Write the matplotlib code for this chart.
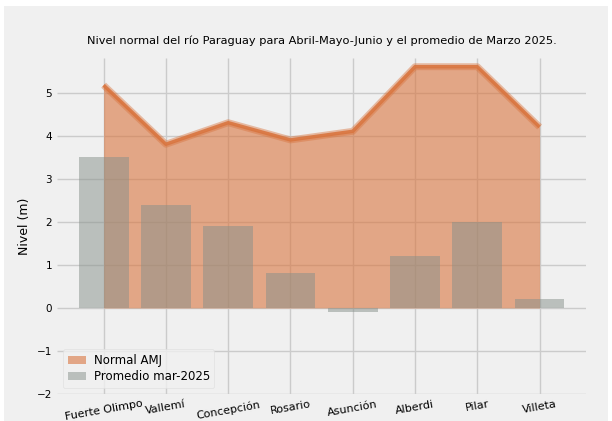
import matplotlib.pyplot as plt
import matplotlib.patches as mpatches
import numpy as np

plt.style.use('fivethirtyeight')

estaciones = ['Fuerte Olimpo', 'Vallemí', 'Concepción', 'Rosario',
              'Asunción', 'Alberdi', 'Pilar', 'Villeta']
normal_amj = [5.17, 3.8, 4.3, 3.9, 4.1, 5.6, 5.6, 4.2]
promedio_mar = [3.5, 2.4, 1.9, 0.8, -0.1, 1.2, 2.0, 0.2]

naranja = '#d9753f'
gris = '#86908a'

fig = plt.figure(figsize=(6.12, 4.21), dpi=100, facecolor='white')
fig.patches.append(mpatches.Rectangle((0.007, 0.0), 0.986, 0.986,
                                      transform=fig.transFigure,
                                      facecolor='#f0f0f0', edgecolor='none',
                                      zorder=-10))
ax = fig.add_axes([0.093, 0.064, 0.865, 0.798])
ax.set_facecolor('#f0f0f0')

x = np.arange(len(estaciones))
ax.fill_between(x, 0, normal_amj, color=naranja, alpha=0.6, lw=0,
                label='Normal AMJ', zorder=2)
ax.plot(x, normal_amj, color=naranja, lw=5, alpha=0.45, zorder=3)
ax.plot(x, normal_amj, color=naranja, lw=2.5, alpha=0.9, zorder=3)
ax.bar(x, promedio_mar, width=0.8, color=gris, alpha=0.5,
       label='Promedio mar-2025', zorder=4)

ax.set_xlim(-0.75, 7.75)
ax.set_ylim(-2, 5.8)
ax.set_yticks([-2, -1, 0, 1, 2, 3, 4, 5])
ax.set_xticks(x)
ax.set_xticklabels(estaciones, rotation=10, fontsize=8)
ax.tick_params(axis='y', labelsize=7.5)
ax.grid(True, color='#cbcbcb', lw=1)
ax.set_ylabel('Nivel (m)', fontsize=9)
ax.set_title('Nivel normal del río Paraguay para Abril-Mayo-Junio y el promedio de Marzo 2025.',
             fontsize=8.2, pad=10)
for s in ax.spines.values():
    s.set_visible(False)

leg = ax.legend(loc='lower left', fontsize=8.5, frameon=True,
                handlelength=1.6, borderpad=0.4, labelspacing=0.3,
                handletextpad=0.6)
leg.get_frame().set_facecolor('#f0f0f0')
leg.get_frame().set_edgecolor('#dddddd')

fig.savefig('out.png', dpi=100, facecolor=fig.get_facecolor())
